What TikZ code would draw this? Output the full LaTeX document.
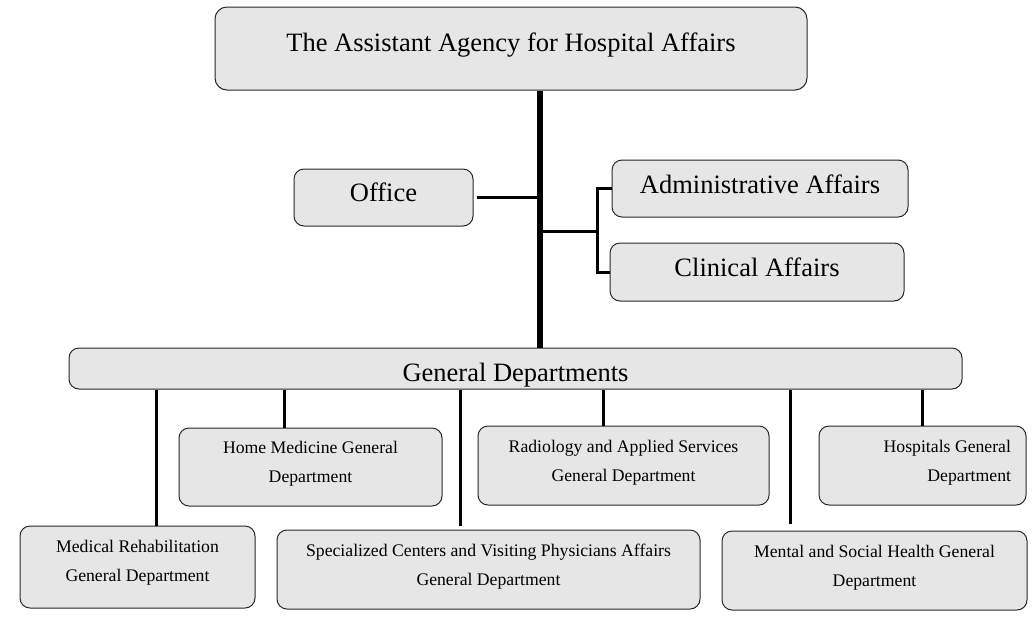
\documentclass[tikz,border=0pt]{standalone}
\usepackage{fontspec}
\setmainfont{Liberation Serif}
\usetikzlibrary{calc}
\definecolor{boxgray}{RGB}{230,230,230}
\definecolor{edgegray}{RGB}{40,40,40}
\newcommand\tx[3]{\raisebox{#1}[0pt][0pt]{\begin{tabular}[t]{@{}#2@{}}#3\end{tabular}}}
\begin{document}
\begin{tikzpicture}[x=1pt,y=-1pt,
  box/.style={draw=edgegray, line width=1pt, fill=boxgray, rounded corners=10pt, inner sep=0pt},
  big/.style={font=\fontsize{26.5}{30}\selectfont},
  small/.style={font=\fontsize{17.7}{29}\selectfont},
  conn/.style={line width=3pt, draw=black},
  spinestyle/.style={line width=6pt, draw=black}]
\useasboundingbox[fill=white] (0,0) rectangle (1033,625);

% top level
\node[box,big,rounded corners=12pt,minimum width=592pt,minimum height=83pt] (top) at (511,48.5)
  {\tx{-3.3pt}{c}{The Assistant Agency for Hospital Affairs}};
\node[box,big,minimum width=179pt,minimum height=57pt] (office) at (383.5,197.5)
  {\tx{-4.3pt}{c}{Office}};
\node[box,big,minimum width=296pt,minimum height=57pt] (admin) at (760,188.5)
  {\tx{-5.3pt}{c}{Administrative Affairs}};
\node[box,big,minimum width=294pt,minimum height=58pt] (clinical) at (757,272)
  {\tx{-4.8pt}{c}{Clinical Affairs}};
\node[box,big,minimum width=893pt,minimum height=41pt] (gen) at (515.5,368.5)
  {\tx{-13pt}{c}{General Departments}};

% departments
\node[box,small,minimum width=263pt,minimum height=78pt] (home) at (310.5,467)
  {\tx{13.2pt}{c}{Home Medicine General\\Department}};
\node[box,small,minimum width=291pt,minimum height=79pt] (radio) at (623.5,465.5)
  {\tx{12.7pt}{c}{Radiology and Applied Services\\General Department}};
\node[box,small,minimum width=207pt,minimum height=79pt] (hosp) at (922.5,465.5)
  {\makebox[177pt][r]{\tx{12.7pt}{r}{Hospitals General\\Department}}};
\node[box,small,minimum width=235pt,minimum height=82pt] (rehab) at (137.5,567)
  {\tx{14.2pt}{c}{Medical Rehabilitation\\General Department}};
\node[box,small,minimum width=423pt,minimum height=79pt] (spec) at (488.5,569.5)
  {\tx{12.7pt}{c}{Specialized Centers and Visiting Physicians Affairs\\General Department}};
\node[box,small,minimum width=305pt,minimum height=79pt] (mental) at (874.5,570.5)
  {\tx{12.7pt}{c}{Mental and Social Health General\\Department}};

% helper coordinates
\coordinate (spine) at (540,0);
\coordinate (bx) at (597,231);
\coordinate (c1) at (156,0);
\coordinate (c2) at (284,0);
\coordinate (c3) at (460,0);
\coordinate (c4) at (603,0);
\coordinate (c5) at (790,0);
\coordinate (c6) at (922,0);

% connectors
\draw[spinestyle] (top.south -| spine) -- (gen.north -| spine);
\draw[conn] (office.east) ++(3,0) -- (office.east -| spine);
\draw[conn] (spine |- bx) -- (bx);
\draw[conn] (admin.west) -| (bx) |- (clinical.west);
\draw[conn] (gen.south -| c1) -- (rehab.north -| c1);
\draw[conn] (gen.south -| c2) -- (home.north -| c2);
\draw[conn, shorten >=4pt] (gen.south -| c3) -- (spec.north -| c3);
\draw[conn] (gen.south -| c4) -- (radio.north -| c4);
\draw[conn, shorten >=7pt] (gen.south -| c5) -- (mental.north -| c5);
\draw[conn] (gen.south -| c6) -- (hosp.north -| c6);
\end{tikzpicture}
\end{document}
